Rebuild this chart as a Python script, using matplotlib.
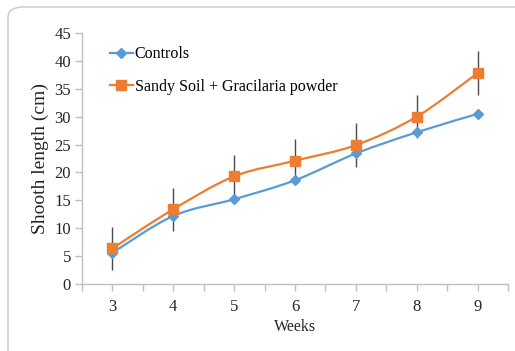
import numpy as np
import matplotlib
matplotlib.use("Agg")
import matplotlib.pyplot as plt
from matplotlib.path import Path
from matplotlib.patches import PathPatch, FancyBboxPatch
from matplotlib.lines import Line2D

weeks = [3, 4, 5, 6, 7, 8, 9]
controls = [5.6, 12.2, 15.2, 18.6, 23.4, 27.2, 30.5]
sandy = [6.4, 13.4, 19.3, 22.1, 24.9, 30.0, 37.8]
sandy_err = [3.9, 3.9, 3.9, 3.9, 3.9, 3.9, 3.9]

labels = ["Controls", "Sandy Soil + Gracilaria powder"]
blue = "#5B9BD5"
orange = "#ED7D31"

plt.rcParams['font.family'] = ['Liberation Serif', 'DejaVu Serif']


def smooth_path(x, y):
    # excel-like smoothed line: cubic bezier with catmull-rom control points
    x = np.asarray(x, float)
    y = np.asarray(y, float)
    verts = [(x[0], y[0])]
    codes = [Path.MOVETO]
    n = len(x)
    for i in range(n - 1):
        x0, y0 = (x[i - 1], y[i - 1]) if i > 0 else (x[i], y[i])
        x3, y3 = (x[i + 2], y[i + 2]) if i + 2 < n else (x[i + 1], y[i + 1])
        c1 = (x[i] + (x[i + 1] - x0) / 6, y[i] + (y[i + 1] - y0) / 6)
        c2 = (x[i + 1] - (x3 - x[i]) / 6, y[i + 1] - (y3 - y[i]) / 6)
        verts += [c1, c2, (x[i + 1], y[i + 1])]
        codes += [Path.CURVE4] * 3
    return Path(verts, codes)


fig = plt.figure(figsize=(5.15, 3.51), dpi=100)

# outer chart border (cropped on right/bottom)
fig.patches.append(FancyBboxPatch((8 / 515, -0.1), 1.2, 1 - 7 / 351 + 0.1,
                                  boxstyle="round,pad=0,rounding_size=0.03",
                                  transform=fig.transFigure, fill=False,
                                  edgecolor="#C8C8C8", linewidth=1.0))

ax = fig.add_axes([82 / 515, 1 - 284 / 351, 426 / 515, 251 / 351])

ax.errorbar(weeks, sandy, yerr=sandy_err, fmt="none", ecolor="#4A4A4A",
            elinewidth=1.0, capsize=0, zorder=1)

ax.add_patch(PathPatch(smooth_path(weeks, controls), fill=False,
                       edgecolor=blue, linewidth=1.6, zorder=2))
ax.add_patch(PathPatch(smooth_path(weeks, sandy), fill=False,
                       edgecolor=orange, linewidth=1.6, zorder=3))
ax.plot(weeks, controls, linestyle="none", marker="D", markersize=5.5,
        color=blue, zorder=4)
ax.plot(weeks, sandy, linestyle="none", marker="s", markersize=7.5,
        color=orange, zorder=5)

ax.set_xlim(2.5, 9.5)
ax.set_ylim(0, 45)
ax.set_yticks(range(0, 46, 5))
ax.set_xticks(weeks)
ax.set_xticks(np.arange(2.5, 9.6, 1.0), minor=True)

for s in ["top", "right"]:
    ax.spines[s].set_visible(False)
for s in ["left", "bottom"]:
    ax.spines[s].set_color("#BFBFBF")
    ax.spines[s].set_linewidth(1.0)

ax.tick_params(axis="both", which="both", color="#BFBFBF", direction="out",
               length=5, width=1.0, labelsize=12, labelcolor="#262626")
ax.tick_params(axis="x", which="major", pad=6)
ax.tick_params(axis="y", pad=3)

ax.set_xlabel("Weeks", fontsize=11.5, color="#262626", labelpad=3)
ax.set_ylabel("Shooth length (cm)", fontsize=14, color="#262626", labelpad=4)

handles = [
    Line2D([], [], color=blue, linewidth=1.6, marker="D", markersize=5.5),
    Line2D([], [], color=orange, linewidth=1.6, marker="s", markersize=7.5),
]
ax.legend(handles, labels, loc="upper left", bbox_to_anchor=(0.05, 0.973),
          frameon=False, fontsize=11.5, handlelength=1.45, handletextpad=0.12,
          labelspacing=1.05, borderaxespad=0)

fig.savefig("out.png", dpi=100)
